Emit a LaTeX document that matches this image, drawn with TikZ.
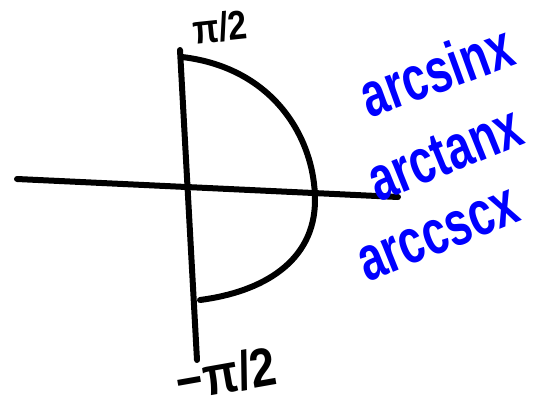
\documentclass[tikz,border=0pt]{standalone}
\usepackage{fontspec}
\newfontfamily\handfont{Liberation Sans}
\newcommand{\tall}[2][1.4]{\scalebox{1}[#1]{#2}}
\begin{document}
\begin{tikzpicture}[
  x=1pt, y=-1pt,
  ink/.style={draw=black, line width=6pt, line cap=round, line join=round},
  lbl/.style={font=\handfont\bfseries\fontsize{34}{34}\selectfont, inner sep=0pt},
  fn/.style={font=\handfont\bfseries\fontsize{45}{45}\selectfont, text=blue,
             inner sep=0pt},
]
\useasboundingbox (0,0) rectangle (544,418);
% Axes
\coordinate (xl) at (17,179);
\coordinate (xr) at (398,197);
\coordinate (yt) at (180,50);
\coordinate (yb) at (197,360);
\draw[ink] (xl) -- (xr);
\draw[ink] (yt) -- (yb);
% Half circle
\coordinate (at) at (182,57);
\coordinate (am) at (315,200);
\coordinate (ab) at (200,300);
\draw[ink] (at) .. controls (275,68) and (315,140) .. (am)
           .. controls (315,262) and (262,292) .. (ab);
% Bounds
\node[lbl, rotate=6] (top) at (220,27) {\tall[1.2]{π/2}};
\node[lbl, rotate=10] (bot) at (226,374) {\scalebox{1.35}[1.6]{−π/2}};
% Functions
\node[fn, rotate=20] (fs) at (436,70) {\tall{arcsinx}};
\node[fn, rotate=22] (ft) at (445,154) {\tall{arctanx}};
\node[fn, rotate=22] (fc) at (439,236) {\tall{arccscx}};
\end{tikzpicture}
\end{document}
